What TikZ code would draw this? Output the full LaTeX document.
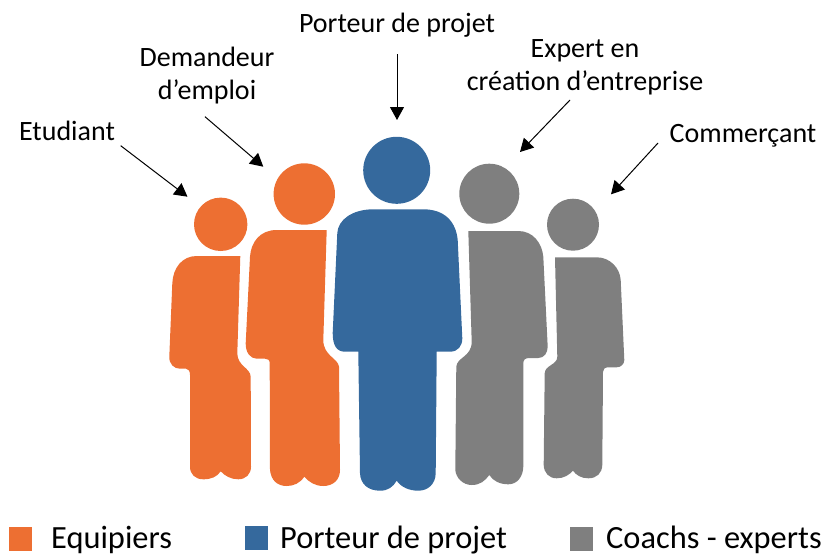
\documentclass[tikz,border=0pt]{standalone}
\usepackage{fontspec}
\setmainfont{Carlito}
\usetikzlibrary{arrows.meta}
\definecolor{equipier}{HTML}{ED6F32}
\definecolor{porteur}{HTML}{35699D}
\definecolor{coach}{HTML}{7F7F7F}
\tikzset{
    head/.style={circle, inner sep=0pt, draw=none},
    label/.style={font=\fontsize{28}{33.5}\selectfont, align=center, inner sep=0pt},
    legendtext/.style={font=\fontsize{32.4}{38}\selectfont, anchor=base west, inner sep=0pt},
    legendbox/.style={minimum width=23pt, minimum height=24pt, inner sep=0pt},
}
\begin{document}
\begin{tikzpicture}[>={Triangle[length=13pt,width=14pt]}, x=1pt, y=-1pt]

    \useasboundingbox (0,0) rectangle (828,555);

    % heads
    \node[head, fill=equipier, minimum size=53.4pt] (h1) at (220.7,224.3) {};
    \node[head, fill=equipier, minimum size=61.4pt] (h2) at (304.3,194) {};
    \node[head, fill=porteur, minimum size=67pt] (h3) at (396.7,170.3) {};
    \node[head, fill=coach, minimum size=60pt] (h4) at (489.3,193.7) {};
    \node[head, fill=coach, minimum size=52pt] (h5) at (573,224.7) {};

    % bodies
    \fill[equipier] (240.3,256) -- (196.7,256) .. controls (182,256) and (173,268) .. (172.3,283.3)
        -- (169.3,356.7) .. controls (169,364) and (174,368.7) .. (180,368.7) -- (186,368.7)
        .. controls (188.5,368.7) and (190,371) .. (190,375) -- (190,466.7)
        .. controls (190,474) and (195,479.3) .. (203.3,479.3) .. controls (211,479.3) and (217,477) .. (220.7,471.3)
        .. controls (225,476) and (231,479.3) .. (238.3,479.3) .. controls (246,479.3) and (251,474) .. (251,466.7)
        -- (250.7,376.7) .. controls (250.5,368) and (237.3,366) .. (237.3,353.3) -- cycle;
    \fill[equipier] (326.7,230) -- (276.7,230) .. controls (260,230) and (251,242) .. (250,256.7)
        -- (245.7,343.3) .. controls (245.5,352) and (250,358.7) .. (256.7,358.7) -- (265,358.7)
        .. controls (268,358.7) and (269.7,360) .. (269.7,363.3) -- (270,470)
        .. controls (271,480) and (277,486) .. (286.7,486) .. controls (294,486) and (300,483) .. (304.3,476.7)
        .. controls (309,482) and (315,486) .. (323.3,486) .. controls (333,486) and (340,480) .. (340,470)
        -- (339,366.7) .. controls (338,358) and (323.3,356) .. (323.3,340) -- cycle;
    \fill[porteur] (373.3,209.3) -- (423.3,209.3) .. controls (445,209.3) and (456,222) .. (457.7,240)
        -- (462.3,338.3) .. controls (462.3,346) and (458,351.7) .. (450,351.7) -- (436.7,351.7)
        -- (435.7,473.3) .. controls (435.5,484) and (428,490.7) .. (418.3,490.7) .. controls (409,490.7) and (401,487) .. (396.7,480.7)
        .. controls (393,487) and (388,490.7) .. (380,490.7) .. controls (368,490.7) and (360.5,484) .. (360,473.3)
        -- (358.3,351.7) -- (345,351.7) .. controls (337,351.7) and (332.7,346) .. (332.7,333)
        -- (337.3,233) .. controls (338,220) and (352,209.3) .. (373.3,209.3) -- cycle;
    \fill[coach] (468.3,231) -- (518.3,231) .. controls (533,231) and (542,243) .. (543.3,256.7)
        -- (547.7,346.7) .. controls (547.7,353) and (544,358) .. (538.3,358) -- (529.3,358)
        .. controls (525,358) and (523.3,360) .. (523.3,363.3) -- (523.3,466.7)
        .. controls (523,477) and (517,484.3) .. (508.3,484.3) .. controls (500,484.3) and (493,481) .. (489.3,475)
        .. controls (485,481) and (480,485) .. (471.7,485) .. controls (463,485) and (456,478) .. (455.3,470)
        -- (456.3,366.7) .. controls (457,357) and (471.7,357) .. (471.7,341.7) -- cycle;
    \fill[coach] (555,257.3) -- (596.7,257.3) .. controls (610,257.3) and (620,268) .. (620.7,280)
        -- (624.3,360) .. controls (624.3,364) and (621,367.3) .. (616.7,367.3) -- (608.3,367.3)
        .. controls (605,367.3) and (603,369) .. (603,371.7) -- (602.3,465)
        .. controls (602,473) and (597,478.3) .. (588.3,478.3) .. controls (581,478.3) and (576,475) .. (573,470.7)
        .. controls (569,475) and (564,478.3) .. (556.7,478.3) .. controls (549,478.3) and (544,473) .. (543.7,465)
        -- (544.7,373.3) .. controls (545,365) and (557.3,365) .. (557.3,356.7) -- cycle;

    % labels
    \node[label] (etudiant) at (67,131) {Etudiant};
    \node[label] (demandeur) at (207,75.5) {Demandeur\\d’emploi};
    \node[label] (chef) at (397,25) {Porteur de projet};
    \node[label] (expert) at (585,67.5) {Expert en\\création d’entreprise};
    \node[label] (commercant) at (743,136) {Commerçant};

    % arrows
    \coordinate (e1) at (120.7,145.7);
    \coordinate (e2) at (187.5,196.7);
    \coordinate (d1) at (205,116.7);
    \coordinate (d2) at (263.3,166.7);
    \coordinate (p1) at (397,54);
    \coordinate (p2) at (397,120);
    \coordinate (x1) at (570,100);
    \coordinate (x2) at (520,152);
    \coordinate (c1) at (658,143);
    \coordinate (c2) at (611,194.3);
    \draw[->, line width=1pt] (e1) -- (e2);
    \draw[->, line width=1pt] (d1) -- (d2);
    \draw[->, line width=1pt] (p1) -- (p2);
    \draw[->, line width=1pt] (x1) -- (x2);
    \draw[->, line width=1pt] (c1) -- (c2);

    % legend
    \node[legendbox, fill=equipier] (l1) at (20.5,538.8) {};
    \node[legendbox, fill=porteur] (l2) at (256.5,538) {};
    \node[legendbox, fill=coach] (l3) at (581.5,538.8) {};
    \node[legendtext] (t1) at (51,548) {Equipiers};
    \node[legendtext] (t2) at (280,548) {Porteur de projet};
    \node[legendtext] (t3) at (606,548) {Coachs - experts};

\end{tikzpicture}
\end{document}
